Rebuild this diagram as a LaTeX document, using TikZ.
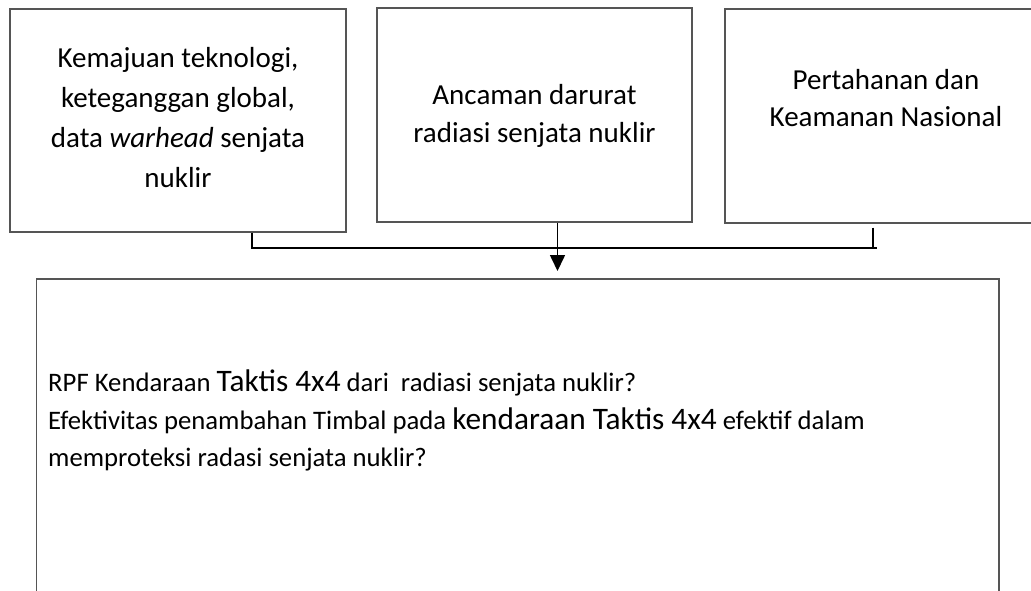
\documentclass[tikz,border=0pt]{standalone}
\usepackage{fontspec}
\setmainfont{Carlito}
\usetikzlibrary{arrows.meta}
\definecolor{boxgray}{RGB}{85,85,85}
\begin{document}
\begin{tikzpicture}[x=1pt,y=-1pt,
  box/.style={draw=boxgray,line width=1.1pt,inner sep=0pt,rectangle},
  conn/.style={draw=black,line width=1.6pt},
  big/.style={font=\fontsize{29}{40}\selectfont,align=center,inner sep=0pt,text=black}]
\useasboundingbox (0,0) rectangle (1031,590);
\clip (0,0) rectangle (1031,590);
% boxes
\node[box,minimum width=336pt,minimum height=223pt] (b1) at (178,120.5) {};
\node[box,minimum width=315pt,minimum height=214pt] (b2) at (534.5,115) {};
\node[box,minimum width=318pt,minimum height=214pt] (b3) at (884,116) {};
\node[box,minimum width=962.5pt,minimum height=361pt] (b4) at (517.75,459.5) {};
% texts
\node[big] (t1) at (178,117.7) {Kemajuan teknologi,\\keteganggan global,\\data \textit{warhead} senjata\\nuklir};
\node[big,font=\fontsize{29}{38}\selectfont] (t2) at (534.5,116) {Ancaman darurat\\radiasi senjata nuklir};
\node[big,font=\fontsize{29}{37}\selectfont] (t3) at (886,98) {Pertahanan dan\\Keamanan Nasional};
\node[anchor=north west,align=left,inner sep=0pt,font=\fontsize{26.7}{37.5}\selectfont] (t4) at (48,370)
 {RPF Kendaraan {\fontsize{31.3}{37.5}\selectfont Taktis 4x4} dari\ \ radiasi senjata nuklir?\\
  Efektivitas penambahan Timbal pada {\fontsize{31.3}{37.5}\selectfont kendaraan Taktis 4x4} efektif dalam\\
  memproteksi radasi senjata nuklir?};
% connectors
\coordinate (j1) at (252,248);
\coordinate (j3) at (873,248);
\coordinate (jend) at (877,248);
\coordinate (tip) at (557.5,271);
\draw[conn] (b1.south -| j1) -- (j1) -- (jend);
\draw[conn,shorten <=4pt] (b3.south -| j3) -- (j3);
\draw[conn,-{Triangle[width=15pt,length=16pt]}] (b2.south -| tip) -- (tip);
\end{tikzpicture}
\end{document}
